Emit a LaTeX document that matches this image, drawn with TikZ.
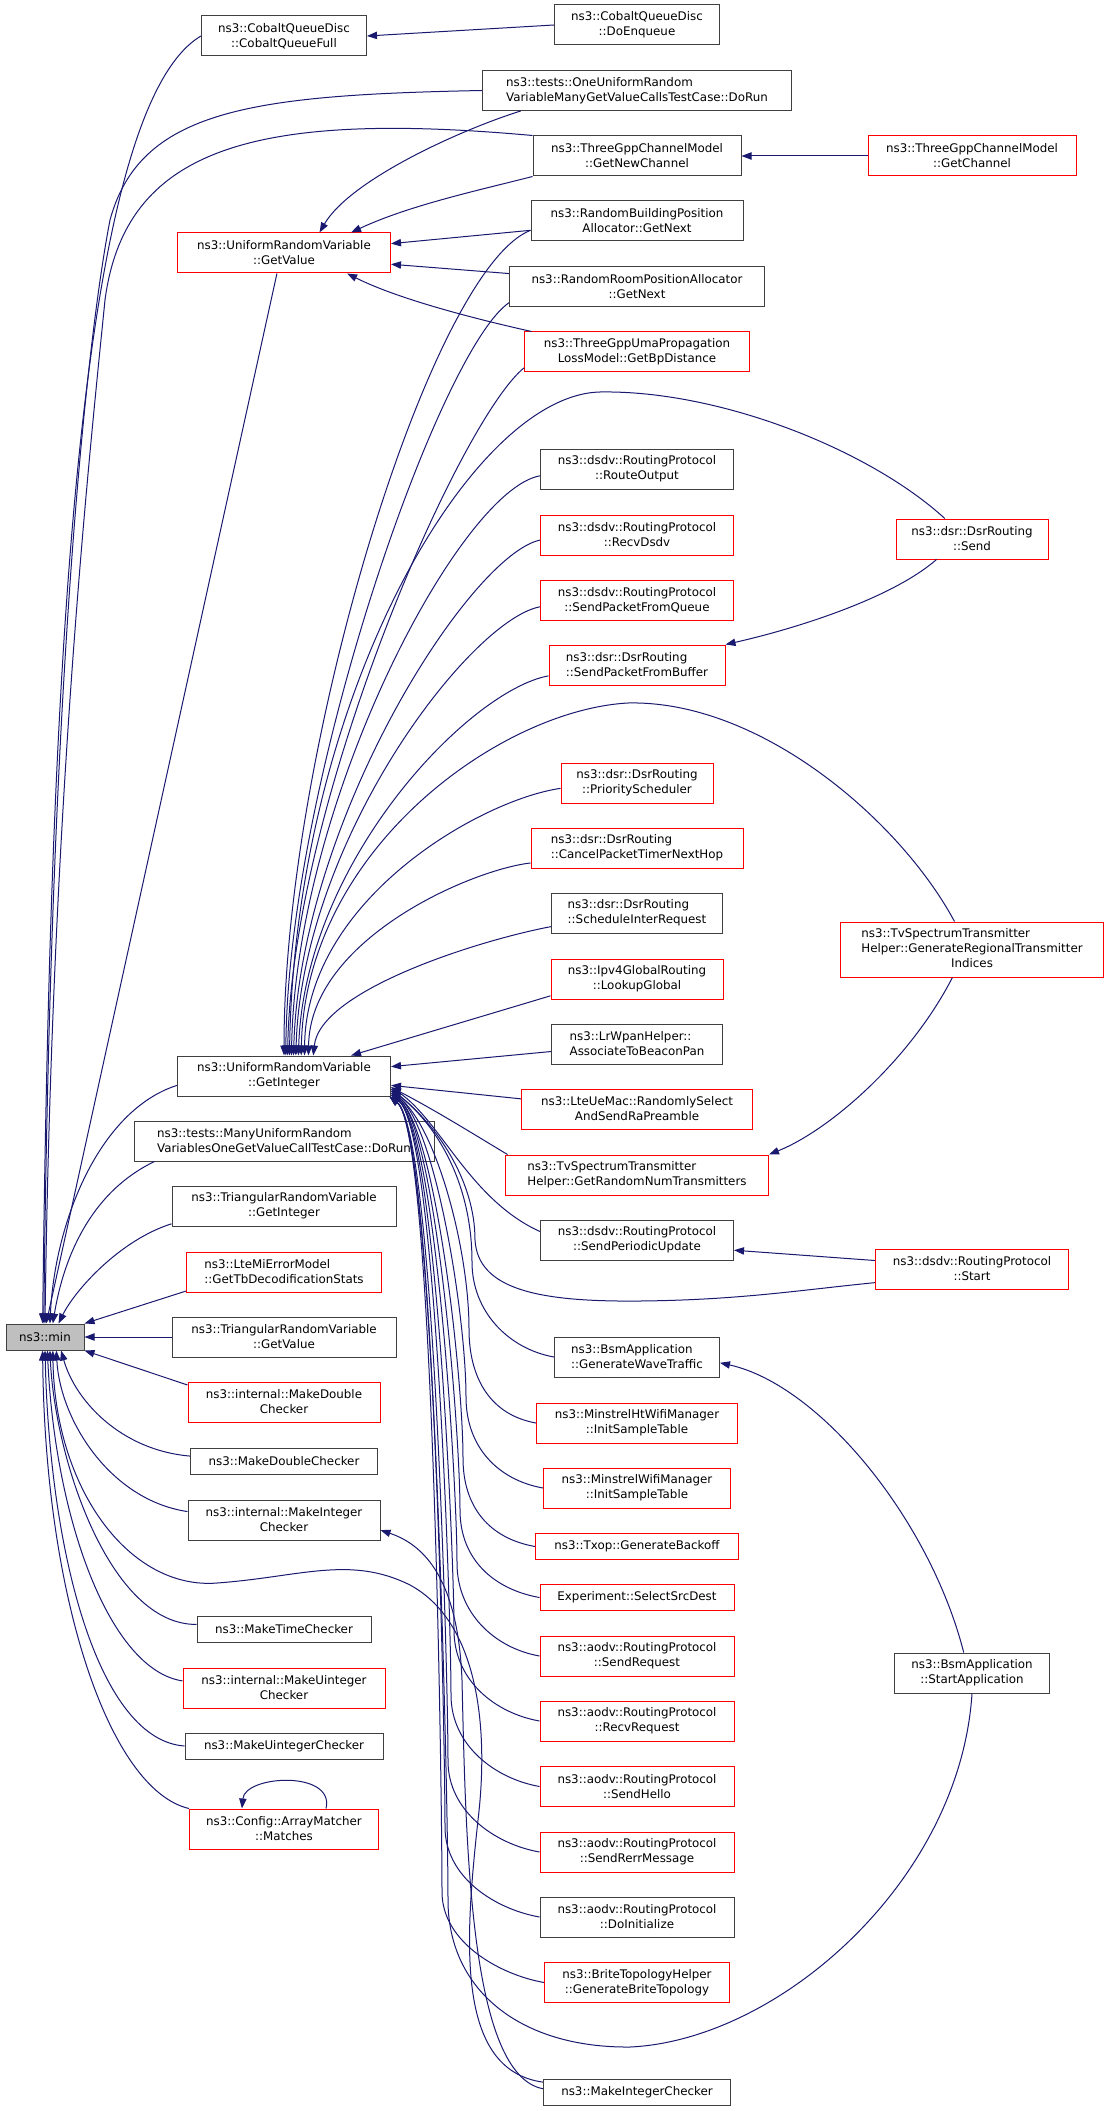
\documentclass[tikz,border=0pt]{standalone}
\usepackage{fontspec}
\setmainfont{DejaVu Sans}
\usetikzlibrary{arrows.meta}
\definecolor{edgeblue}{HTML}{191970}
\definecolor{boxgrey}{HTML}{404040}
\definecolor{boxred}{HTML}{FF0000}
\definecolor{mingrey}{HTML}{BFBFBF}
\newdimen\pxu \pxu=0.75pt

\begin{document}
\begin{tikzpicture}[x=0.75pt, y=-0.75pt,
  fn/.style={draw=boxgrey, fill=white, line width=0.75pt, inner sep=0pt, align=center, font=\fontsize{8.9}{11.25}\selectfont},
  fnred/.style={fn, draw=boxred},
  fnl/.style={fn, align=left},
  fnredl/.style={fnred, align=left},
  call/.style={draw=edgeblue, line width=0.75pt, {Triangle[length=7.5pt,width=5.5pt]}-}]
  \path[use as bounding box, fill=white] (0,0) rectangle (1109,2111);

  % The called function
  \node[fn, fill=mingrey, minimum width=78\pxu, minimum height=26\pxu] (min) at (45,1337) {ns3::min};

  % Second column
  \foreach \nm/\cy/\bw/\bh/\st/\lbl in {
      cqfull/36/165/40/fn/{ns3::CobaltQueueDisc\\::CobaltQueueFull},
      getvalue/253/213/40/fnred/{ns3::UniformRandomVariable\\::GetValue},
      getint/1076/213/40/fn/{ns3::UniformRandomVariable\\::GetInteger},
      manyurv/1141/300/40/fnl/{ns3::tests::ManyUniformRandom\\VariablesOneGetValueCallTestCase::DoRun},
      trigetint/1206/224/40/fn/{ns3::TriangularRandomVariable\\::GetInteger},
      ltemi/1272/195/40/fnredl/{ns3::LteMiErrorModel\\::GetTbDecodificationStats},
      trigetval/1337/224/40/fn/{ns3::TriangularRandomVariable\\::GetValue},
      intmkdbl/1402/192/40/fnred/{ns3::internal::MakeDouble\\Checker},
      mkdbl/1461/187/26/fn/{ns3::MakeDoubleChecker},
      intmkint/1520/192/40/fn/{ns3::internal::MakeInteger\\Checker},
      mktime/1629/174/26/fn/{ns3::MakeTimeChecker},
      intmkuint/1688/202/40/fnred/{ns3::internal::MakeUinteger\\Checker},
      mkuint/1746/198/26/fn/{ns3::MakeUintegerChecker},
      arraymatch/1829/189/40/fnred/{ns3::Config::ArrayMatcher\\::Matches}}
    \node[\st, minimum width=\bw\pxu, minimum height=\bh\pxu] (\nm) at (284,\cy) {\lbl};

  % Third column
  \foreach \nm/\cy/\bw/\bh/\st/\lbl in {
      doenq/25/165/40/fn/{ns3::CobaltQueueDisc\\::DoEnqueue},
      oneurv/90.5/309/40/fnl/{ns3::tests::OneUniformRandom\\VariableManyGetValueCallsTestCase::DoRun},
      getnewch/156/208/40/fn/{ns3::ThreeGppChannelModel\\::GetNewChannel},
      randbldg/221/212/40/fn/{ns3::RandomBuildingPosition\\Allocator::GetNext},
      randroom/287/255/40/fn/{ns3::RandomRoomPositionAllocator\\::GetNext},
      threegppuma/352/225/40/fnred/{ns3::ThreeGppUmaPropagation\\LossModel::GetBpDistance},
      routeout/469/193/40/fn/{ns3::dsdv::RoutingProtocol\\::RouteOutput},
      recvdsdv/535/193/40/fnred/{ns3::dsdv::RoutingProtocol\\::RecvDsdv},
      sendpktq/600/193/40/fnred/{ns3::dsdv::RoutingProtocol\\::SendPacketFromQueue},
      sendpktbuf/665/176/40/fnredl/{ns3::dsr::DsrRouting\\::SendPacketFromBuffer},
      priosched/783/152/40/fnred/{ns3::dsr::DsrRouting\\::PriorityScheduler},
      cancelpkt/848/212/40/fnredl/{ns3::dsr::DsrRouting\\::CancelPacketTimerNextHop},
      schedinter/913/171/40/fnl/{ns3::dsr::DsrRouting\\::ScheduleInterRequest},
      lookupglobal/979/172/40/fnred/{ns3::Ipv4GlobalRouting\\::LookupGlobal},
      lrwpan/1044/171/40/fnl/{ns3::LrWpanHelper::\\AssociateToBeaconPan},
      lteuemac/1109/231/40/fnred/{ns3::LteUeMac::RandomlySelect\\AndSendRaPreamble},
      getrandnum/1175/263/40/fnredl/{ns3::TvSpectrumTransmitter\\Helper::GetRandomNumTransmitters},
      sendperiodic/1240/193/40/fn/{ns3::dsdv::RoutingProtocol\\::SendPeriodicUpdate},
      genwave/1357/165/40/fnl/{ns3::BsmApplication\\::GenerateWaveTraffic},
      minstrelht/1423/201/40/fnred/{ns3::MinstrelHtWifiManager\\::InitSampleTable},
      minstrel/1488/187/40/fnred/{ns3::MinstrelWifiManager\\::InitSampleTable},
      txop/1546.5/203/26/fnred/{ns3::Txop::GenerateBackoff},
      experiment/1597.5/194/26/fnred/{Experiment::SelectSrcDest},
      sendreq/1656/194/40/fnred/{ns3::aodv::RoutingProtocol\\::SendRequest},
      recvreq/1721/194/40/fnred/{ns3::aodv::RoutingProtocol\\::RecvRequest},
      sendhello/1786.5/194/40/fnred/{ns3::aodv::RoutingProtocol\\::SendHello},
      sendrerr/1852/194/40/fnred/{ns3::aodv::RoutingProtocol\\::SendRerrMessage},
      doinit/1917/194/40/fn/{ns3::aodv::RoutingProtocol\\::DoInitialize},
      brite/1982.5/185/40/fnred/{ns3::BriteTopologyHelper\\::GenerateBriteTopology},
      mkintchk/2092/187/26/fn/{ns3::MakeIntegerChecker}}
    \node[\st, minimum width=\bw\pxu, minimum height=\bh\pxu] (\nm) at (637,\cy) {\lbl};

  % Fourth column
  \foreach \nm/\cy/\bw/\st/\lbl in {
      getchannel/156/208/fnred/{ns3::ThreeGppChannelModel\\::GetChannel},
      dsrsend/539/152/fnred/{ns3::dsr::DsrRouting\\::Send},
      dsdvstart/1269/193/fnred/{ns3::dsdv::RoutingProtocol\\::Start},
      startapp/1673/155/fn/{ns3::BsmApplication\\::StartApplication}}
    \node[\st, minimum width=\bw\pxu, minimum height=40\pxu] (\nm) at (972,\cy) {\lbl};
  \node[fnred, minimum width=263\pxu, minimum height=55\pxu] (genregional) at (972,949.5)
    {\begin{tabular}{@{}l@{}}ns3::TvSpectrumTransmitter\\Helper::GenerateRegionalTransmitter\\\multicolumn{1}{@{}c@{}}{Indices}\end{tabular}};

  % Calls into ns3::min
  \draw[call] (min.100) .. controls (50,700) and (75,110) .. (cqfull.west);
  \draw[call] (min.95) .. controls (50,700) and (85,350) .. (110,220) .. controls (140,110) and (250,95) .. (oneurv.west);
  \draw[call] (min.90) .. controls (52,800) and (90,450) .. (105,300) .. controls (125,150) and (250,110) .. (getnewch.north west);
  \draw[call] (min.85) -- (getvalue.-109);
  \draw[call] (min.70) .. controls (55,1220) and (100,1110) .. (getint.185);
  \draw[call] (min.60) .. controls (65,1250) and (95,1190) .. (manyurv.189);
  \draw[call] (min.45) .. controls (75,1290) and (120,1240) .. (trigetint.189);
  \draw[call] (min.north east) -- (ltemi.191);
  \draw[call] (min.east) -- (trigetval.west);
  \draw[call] (min.south east) -- (intmkdbl.170);
  \draw[call] (min.-40) .. controls (75,1400) and (120,1450) .. (mkdbl.177);
  \draw[call] (min.-50) .. controls (60,1420) and (110,1500) .. (intmkint.175);
  \draw[call] (min.-70) .. controls (55,1460) and (110,1625) .. (mktime.177);
  \draw[call] (min.-80) .. controls (55,1520) and (110,1670) .. (intmkuint.176);
  \draw[call] (min.-90) .. controls (50,1560) and (100,1740) .. (mkuint.west);
  \draw[call] (min.-100) .. controls (45,1600) and (110,1790) .. (arraymatch.north west);
  \draw[call] (min.-60) .. controls (55,1490) and (130,1590) .. (217,1583)
    .. controls (300,1577) and (350,1555) .. (410,1585)
    .. controls (475,1620) and (490,1720) .. (478,1820)
    .. controls (465,1940) and (455,2070) .. (mkintchk.174);
  \draw[call] (arraymatch.154) .. controls (245,1775) and (335,1770) .. (arraymatch.26);

  % Calls into GetValue and the small chains
  \draw[call] (getvalue.30) .. controls (350,180) and (460,130) .. (oneurv.-170);
  \draw[call] (getvalue.17) .. controls (410,205) and (480,190) .. (getnewch.south west);
  \draw[call] (getvalue.5) -- (randbldg.185);
  \draw[call] (getvalue.-6) -- (randroom.174);
  \draw[call] (getvalue.-18) .. controls (400,300) and (480,320) .. (threegppuma.169);
  \draw[call] (cqfull.east) -- (doenq.west);
  \draw[call] (getnewch.east) -- (getchannel.west);
  \draw[call] (sendpktbuf.north east) .. controls (790,630) and (890,600) .. (dsrsend.-150);
  \draw[call] (getrandnum.north east) .. controls (830,1130) and (910,1060) .. (genregional.-125);
  \draw[call] (sendperiodic.-6) -- (dsdvstart.175);
  \draw[call] (genwave.-4) .. controls (820,1385) and (930,1520) .. (startapp.112);
  \draw[call] (intmkint.-6) .. controls (425,1545) and (458,1580) .. (462,1680) .. controls (466,1850) and (470,2075) .. (mkintchk.178);

  % Calls into GetInteger from above
  \draw[call] (getint.90) .. controls (284,750) and (430,270) .. (randbldg.185);
  \draw[call] (getint.85) .. controls (288,780) and (440,350) .. (randroom.187);
  \draw[call] (getint.80) .. controls (292,800) and (460,420) .. (threegppuma.188);
  \draw[call] (getint.75) .. controls (295,700) and (470,395) .. (600,392) .. controls (720,390) and (870,450) .. (dsrsend.143);
  \draw[call] (getint.70) .. controls (296,800) and (460,490) .. (routeout.184);
  \draw[call] (getint.65) .. controls (300,820) and (470,555) .. (recvdsdv.183);
  \draw[call] (getint.60) .. controls (302,840) and (470,620) .. (sendpktq.184);
  \draw[call] (getint.55) .. controls (305,860) and (470,690) .. (sendpktbuf.187);
  \draw[call] (getint.50) .. controls (305,850) and (500,710) .. (628,703) .. controls (760,700) and (900,820) .. (genregional.122);
  \draw[call] (getint.45) .. controls (306,900) and (480,800) .. (priosched.184);
  \draw[call] (getint.40) .. controls (310,940) and (470,870) .. (cancelpkt.188);
  \draw[call] (getint.35) .. controls (320,990) and (480,940) .. (schedinter.189);
  \draw[call] (getint.17) -- (lookupglobal.191);
  \draw[call] (getint.5) -- (lrwpan.185);
  \draw[call] (getint.-5) -- (lteuemac.175);

  % Calls into GetInteger from below
  \draw[call] (getint.-6) .. controls (435,1110) and (475,1135) .. (getrandnum.171);
  \draw[call] (getint.-6.5) .. controls (440,1120) and (470,1200) .. (sendperiodic.175);
  \draw[call] (getint.-7) .. controls +(45,35) and +(0,-60) .. (475,1240) .. controls (478,1290) and (540,1302) .. (640,1301) .. controls (740,1300) and (800,1290) .. (dsdvstart.188);
  \foreach \nm/\a/\xv/\yw in {genwave/-7.5/472/1352, minstrelht/-8/469/1419, minstrel/-8.5/466/1487,
      txop/-9/463/1548, experiment/-9.5/460/1600, sendreq/-10/457/1653, recvreq/-10.3/454/1720,
      sendhello/-10.6/451/1785, sendrerr/-11/448/1851, doinit/-11.2/445/1917, brite/-11.4/442/1982}
    \draw[call] (getint.\a) .. controls +(45,35) and +(0,-80) .. (\xv,\yw-90) .. controls +(0,50) and +(-45,-8) .. (\nm.west);
  \draw[call] (getint.-11.6) .. controls +(45,35) and +(0,-100) .. (448,1900) .. controls (448,1990) and (520,2048) .. (630,2047) .. controls (780,2040) and (960,1880) .. (startapp.south);
\end{tikzpicture}
\end{document}
